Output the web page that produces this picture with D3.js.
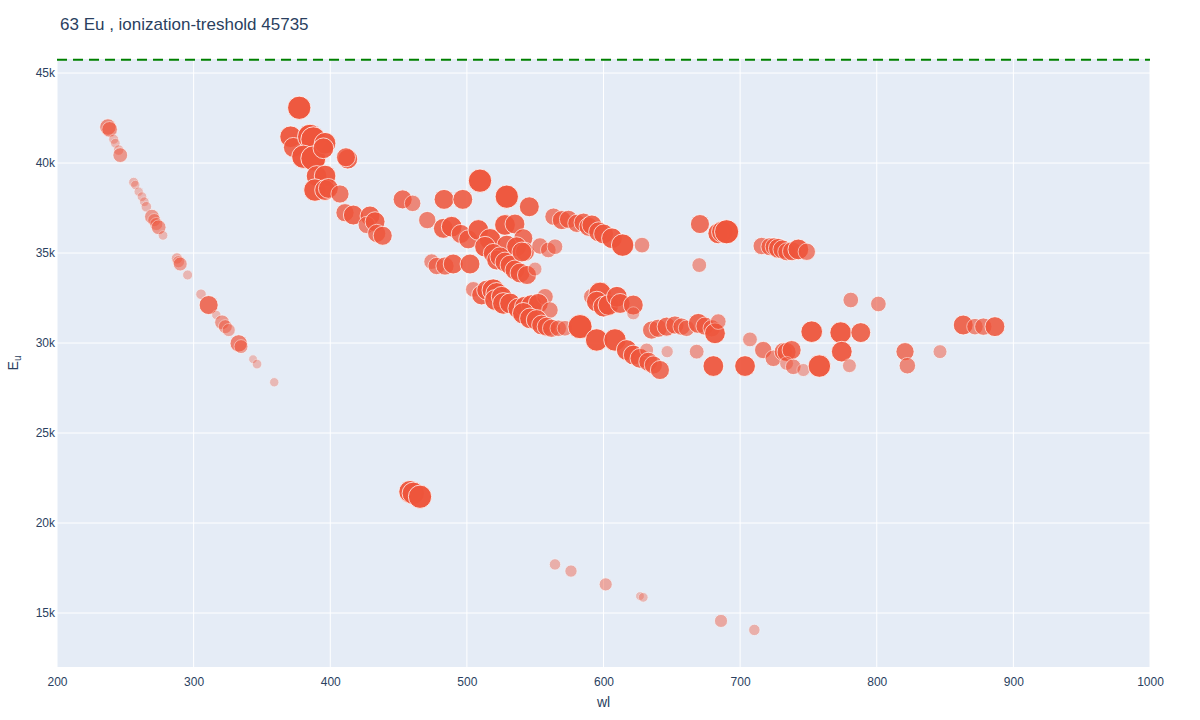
<!DOCTYPE html>
<html>
<head>
<meta charset="utf-8">
<script src="https://cdn.jsdelivr.net/npm/d3@7"></script>
<style>
  body { margin: 0; background: #fff; }
  text { font-family: Arial, "Liberation Sans", sans-serif; fill: #2a3f5f; }
</style>
</head>
<body>
<div id="chart"></div>
<script>
// wavelength (nm) of each line
var wl = [
  237.3, 238.5, 241.5, 242.7, 245.1, 246.3, 256.1, 257.3, 259.8, 262.2, 263.9, 265.4,
  269.5, 271.2, 272.7, 274.4, 277.6, 287.8, 289.0, 290.2, 295.6, 305.4, 311.0, 316.6,
  320.8, 323.2, 325.7, 333.0, 334.7, 343.5, 346.4, 359.0,
  377.3, 371.0, 373.0, 385.2, 387.6, 380.3, 387.6, 396.2, 395.0, 412.8, 411.5, 390.0,
  396.2, 388.8, 396.2, 398.6, 407.1, 410.8, 416.9, 429.1, 426.7, 432.8, 434.0, 438.4,
  453.0, 460.3, 483.3, 497.0, 509.6, 529.2, 545.7, 471.0, 482.8, 488.9, 495.5, 501.0,
  508.4, 516.9, 513.3, 527.9, 535.2, 541.3, 529.2, 536.4, 542.5, 553.5, 559.6, 564.5,
  519.3, 521.8, 524.2, 527.9, 531.6, 535.2, 538.9, 544.0, 549.9, 540.3,
  474.2, 477.9, 484.0, 490.0, 502.3,
  563.4, 569.5, 574.4, 580.5, 585.4, 589.1, 591.5, 596.4, 600.1, 606.2, 614.0, 628.2,
  504.7, 510.8, 514.5, 519.3, 521.8, 520.6, 525.5, 526.7, 531.6, 537.6, 542.5, 547.4,
  557.2, 552.3, 560.8, 541.3, 546.2, 551.1, 554.7, 558.4, 562.0, 566.9, 571.8, 582.8,
  595.0, 608.4, 617.0, 621.8, 626.7, 631.6, 632.8, 636.5, 641.3, 646.6, 591.4, 597.5,
  595.1, 600.0, 603.6, 609.8, 612.2, 621.8, 621.8,
  635.2, 640.0, 646.2, 652.3, 657.2, 660.8, 669.4, 674.3, 679.2, 681.6, 684.0, 668.2,
  680.4, 703.6, 707.2, 716.9, 724.3, 731.6, 734.0, 737.7, 734.0, 738.9, 746.3, 752.4,
  758.0,
  670.6, 684.0, 687.0, 690.1, 670.1, 715.8, 721.9, 725.0, 728.0, 731.0, 734.2, 738.0,
  742.6, 748.8, 781.0, 801.2, 773.6, 788.3, 774.4, 780.0, 820.7, 822.4, 846.3, 863.3,
  871.9, 878.0, 886.5,
  458.4, 460.8, 465.7, 564.5, 576.2, 601.6, 626.7, 629.1, 686.0, 710.4
];

// upper level energy (cm-1)
var eu = [
  42000, 41870, 41320, 41100, 40720, 40440, 38930, 38780, 38410, 38130, 37850, 37570,
  37020, 36830, 36610, 36430, 35980, 34700, 34520, 34390, 33780, 32710, 32110, 31560,
  31150, 30910, 30720, 29980, 29800, 29100, 28830, 27820,
  43070, 41460, 40870, 41460, 41320, 40350, 40260, 41100, 40820, 40220, 40320, 39280,
  39280, 38500, 38500, 38590, 38280, 37240, 37110, 37060, 36560, 36740, 36090, 35960,
  37980, 37760, 37980, 37980, 39020, 38130, 37570, 36830, 36370, 36460, 36060, 35760,
  36280, 35760, 35350, 36560, 36610, 35820, 35440, 35350, 35070, 35390, 35170, 35350,
  34980, 34610, 34790, 34500, 34330, 34060, 33890, 33780, 34110, 35060,
  34520, 34280, 34280, 34390, 34390,
  37020, 36830, 36870, 36650, 36690, 36460, 36560, 36180, 36060, 35820, 35440, 35440,
  32980, 32670, 32940, 32940, 32760, 32390, 32570, 32200, 32200, 31920, 32020, 32110,
  32570, 32200, 31830, 31650, 31370, 31280, 31000, 30910, 30820, 30820, 30820, 30910,
  30170, 30170, 29610, 29330, 29150, 29610, 28960, 28780, 28500, 29520, 32570, 32760,
  32300, 32020, 32110, 32570, 32200, 32110, 31650,
  30720, 30820, 30910, 31000, 30910, 30820, 31090, 30940, 30820, 30540, 31190, 29520,
  28720, 28720, 30200, 29610, 29150, 29520, 29500, 29610, 28870, 28680, 28500, 30630,
  28720,
  36610, 36090, 36180, 36180, 34330, 35390, 35350, 35350, 35260, 35200, 35070, 35100,
  35200, 35070, 32390, 32170, 30580, 30580, 29520, 28740, 29520, 28740, 29520, 31000,
  30910, 30910, 30910,
  21740, 21650, 21460, 17700, 17330, 16590, 15940, 15870, 14560, 14060
];

// relative line strength 0..1 (drives marker size and opacity)
var strength = [
  0.5, 0.45, 0.12, 0.1, 0.15, 0.4, 0.12, 0.08, 0.08, 0.1, 0.1, 0.15,
  0.4, 0.3, 0.3, 0.4, 0.1, 0.2, 0.25, 0.35, 0.12, 0.15, 0.65, 0.08,
  0.4, 0.35, 0.3, 0.55, 0.35, 0.05, 0.1, 0.08,
  0.9, 0.8, 0.7, 1.0, 1.0, 0.9, 1.0, 0.8, 0.75, 0.7, 0.65, 0.75,
  0.8, 0.85, 0.75, 0.7, 0.6, 0.6, 0.7, 0.7, 0.55, 0.7, 0.6, 0.65,
  0.65, 0.5, 0.7, 0.7, 0.9, 0.9, 0.7, 0.55, 0.7, 0.75, 0.65, 0.65,
  0.75, 0.8, 0.75, 0.75, 0.7, 0.65, 0.7, 0.7, 0.65, 0.5, 0.45, 0.45,
  0.7, 0.7, 0.7, 0.7, 0.7, 0.7, 0.7, 0.65, 0.35, 0.7,
  0.45, 0.55, 0.6, 0.7, 0.7,
  0.55, 0.65, 0.6, 0.6, 0.65, 0.65, 0.7, 0.7, 0.7, 0.75, 0.85, 0.45,
  0.45, 0.7, 0.7, 0.85, 0.8, 0.75, 0.75, 0.8, 0.75, 0.75, 0.75, 0.75,
  0.5, 0.7, 0.5, 0.8, 0.75, 0.75, 0.7, 0.65, 0.6, 0.5, 0.45, 0.95,
  0.85, 0.85, 0.75, 0.7, 0.7, 0.35, 0.65, 0.6, 0.65, 0.25, 0.5, 0.85,
  0.75, 0.75, 0.75, 0.75, 0.7, 0.7, 0.3,
  0.6, 0.6, 0.65, 0.6, 0.55, 0.5, 0.7, 0.6, 0.55, 0.75, 0.45, 0.4,
  0.75, 0.75, 0.4, 0.55, 0.5, 0.6, 0.65, 0.65, 0.35, 0.45, 0.3, 0.8,
  0.85,
  0.65, 0.75, 0.8, 0.95, 0.4, 0.55, 0.6, 0.6, 0.7, 0.65, 0.6, 0.65,
  0.75, 0.55, 0.45, 0.45, 0.8, 0.7, 0.75, 0.35, 0.6, 0.5, 0.35, 0.7,
  0.5, 0.55, 0.7,
  0.85, 0.85, 0.9, 0.2, 0.25, 0.3, 0.05, 0.1, 0.3, 0.2
];

var xTicks = [200, 300, 400, 500, 600, 700, 800, 900, 1000];
var yTicks = [15000, 20000, 25000, 30000, 35000, 40000, 45000];
var threshold = 45735;
var title = "63 Eu , ionization-treshold 45735";

var width = 1200, height = 720;
var margin = {left: 57, right: 50, top: 59, bottom: 53};

var svg = d3.select("#chart").append("svg")
    .attr("width", width)
    .attr("height", height);

var x = d3.scaleLinear().domain([200, 1000]).range([margin.left, width - margin.right]);
var y = d3.scaleLinear().domain([12000, 45780]).range([height - margin.bottom, margin.top]);
var r = d3.scaleLinear().domain([0, 1]).range([4, 12.5]);
var op = d3.scaleLinear().domain([0, 0.3, 0.75, 1]).range([0.3, 0.45, 0.92, 1]);

// plot background
svg.append("rect")
    .attr("x", margin.left)
    .attr("y", margin.top)
    .attr("width", width - margin.left - margin.right)
    .attr("height", height - margin.top - margin.bottom)
    .attr("fill", "#E5ECF6");

// grid lines
svg.append("g").selectAll("line").data(xTicks).enter().append("line")
    .attr("x1", function (d) { return x(d); })
    .attr("x2", function (d) { return x(d); })
    .attr("y1", margin.top)
    .attr("y2", height - margin.bottom)
    .attr("stroke", "#fff")
    .attr("stroke-width", 1);

svg.append("g").selectAll("line").data(yTicks).enter().append("line")
    .attr("x1", margin.left)
    .attr("x2", width - margin.right)
    .attr("y1", function (d) { return y(d); })
    .attr("y2", function (d) { return y(d); })
    .attr("stroke", "#fff")
    .attr("stroke-width", 1);

// axes (labels only, plotly style)
svg.append("g")
    .attr("transform", "translate(0," + (height - margin.bottom) + ")")
    .call(d3.axisBottom(x).tickValues(xTicks).tickSize(0).tickPadding(10).tickFormat(d3.format("d")));
svg.append("g")
    .attr("transform", "translate(" + margin.left + ",0)")
    .call(d3.axisLeft(y).tickValues(yTicks).tickSize(0).tickPadding(2).tickFormat(d3.format("~s")));
svg.selectAll(".domain").remove();
svg.selectAll(".tick text")
    .attr("font-size", 12)
    .attr("font-family", "Arial, 'Liberation Sans', sans-serif")
    .attr("fill", "#2a3f5f");

// axis titles
svg.append("text")
    .attr("x", (margin.left + width - margin.right) / 2)
    .attr("y", 707)
    .attr("text-anchor", "middle")
    .attr("font-size", 14)
    .text("wl");

var yTitle = svg.append("text")
    .attr("transform", "translate(18," + ((margin.top + height - margin.bottom) / 2) + ") rotate(-90)")
    .attr("text-anchor", "middle")
    .attr("font-size", 14);
yTitle.append("tspan").text("E");
yTitle.append("tspan").attr("font-size", 10).attr("dy", 3).text("u");

// points
var points = wl.map(function (d, i) { return [d, eu[i], strength[i]]; });

svg.append("g").selectAll("circle")
    .data(points)
    .enter()
    .append("circle")
    .attr("cx", function (d) { return x(d[0]); })
    .attr("cy", function (d) { return y(d[1]); })
    .attr("r", function (d) { return r(d[2]); })
    .attr("fill", "#EF553B")
    .attr("stroke", "#fff")
    .attr("stroke-width", 0.8)
    .attr("opacity", function (d) { return op(d[2]); });

// ionization threshold line
svg.append("line")
    .attr("x1", margin.left)
    .attr("x2", width - margin.right)
    .attr("y1", y(threshold))
    .attr("y2", y(threshold))
    .attr("stroke", "green")
    .attr("stroke-width", 2)
    .attr("stroke-dasharray", "10,6");

// title
svg.append("text")
    .attr("x", 60)
    .attr("y", 30)
    .attr("font-size", 17)
    .text(title);
</script>
</body>
</html>
